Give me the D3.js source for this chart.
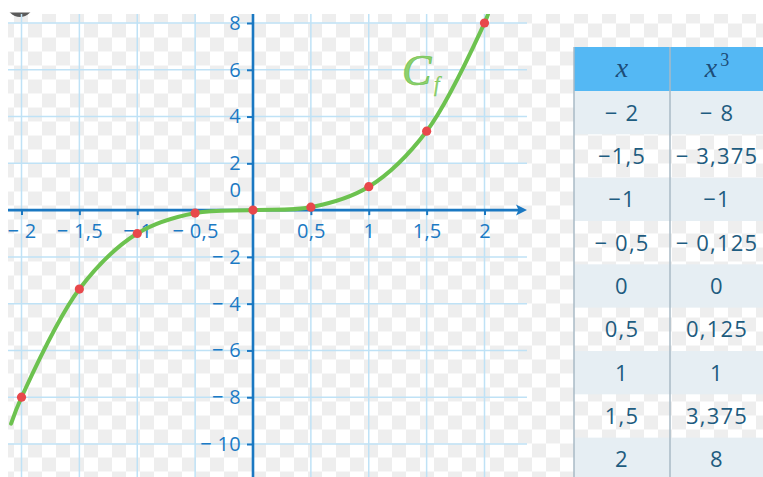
<!DOCTYPE html>
<html>
<head>
<meta charset="utf-8">
<script src="https://cdn.jsdelivr.net/npm/d3@7/dist/d3.min.js"></script>
<style>
  html, body { margin: 0; padding: 0; background: #fff; }
  svg { display: block; }
</style>
</head>
<body>
<svg id="chart" width="763" height="477"></svg>
<script>
// ---- data ----
const xValues = [-2, -1.5, -1, -0.5, 0, 0.5, 1, 1.5, 2];
const yValues = [-8, -3.375, -1, -0.125, 0, 0.125, 1, 3.375, 8];
// curve ends (beyond the tabulated points)
const curveStart = [-2.09, -9.13];
const curveEnd = [2.03, 8.37];
const xTicks = [-2, -1.5, -1, -0.5, 0.5, 1, 1.5, 2];
const yTicks = [8, 6, 4, 2, -2, -4, -6, -8, -10];
const xGrid = [-2, -1.5, -1, -0.5, 0.5, 1, 1.5, 2];
const yGrid = [8, 6, 4, 2, -2, -4, -6, -8, -10];
const tableXLabels = ["− 2", "−1,5", "−1", "− 0,5", "0", "0,5", "1", "1,5", "2"];
const tableYLabels = ["− 8", "− 3,375", "−1", "− 0,125", "0", "0,125", "1", "3,375", "8"];
const headerX = "x";
const headerY = "x";
const headerYSup = "3";
const curveName = "C";
const curveSub = "f";

// ---- setup ----
const svg = d3.select("#chart");
const W = 763, H = 477;
const x = d3.scaleLinear().domain([-2, 2]).range([21.5, 484.5]);
const y = d3.scaleLinear().domain([-10, 8]).range([444, 23]);

const axisColor = "#1a78c2";
const labelColor = "#1c7ac4";
const gridColor = "#bfe2f6";

// checkerboard background
const defs = svg.append("defs");
const pat = defs.append("pattern")
  .attr("id", "checker").attr("patternUnits", "userSpaceOnUse")
  .attr("x", 0).attr("y", 9.5).attr("width", 28).attr("height", 28);
pat.append("rect").attr("width", 28).attr("height", 28).attr("fill", "#ffffff");
pat.append("rect").attr("x", 14).attr("y", 0).attr("width", 14).attr("height", 14).attr("fill", "#eeeeee");
pat.append("rect").attr("x", 0).attr("y", 14).attr("width", 14).attr("height", 14).attr("fill", "#eeeeee");

defs.append("clipPath").attr("id", "plotclip")
  .append("rect").attr("x", 8).attr("y", 14).attr("width", 530).attr("height", H - 14);
defs.append("clipPath").attr("id", "topclip")
  .append("rect").attr("x", 0).attr("y", 12.5).attr("width", 60).attr("height", 10);

svg.append("rect").attr("width", W).attr("height", H).attr("fill", "#fff");
svg.append("rect").attr("x", 8).attr("y", 14).attr("width", W - 8).attr("height", H - 14)
  .attr("fill", "url(#checker)");

// small dark ring fragment at top-left
svg.append("circle").attr("cx", 20).attr("cy", 3.5).attr("r", 13.5)
  .attr("fill", "#5a5a5a").attr("clip-path", "url(#topclip)");

// grid
const grid = svg.append("g");
grid.selectAll("line.v").data(xGrid).join("line")
  .attr("x1", d => x(d)).attr("x2", d => x(d))
  .attr("y1", 14).attr("y2", H)
  .attr("stroke", gridColor).attr("stroke-width", 1.5);
grid.selectAll("line.h").data(yGrid).join("line")
  .attr("x1", 8).attr("x2", 527)
  .attr("y1", d => y(d)).attr("y2", d => y(d))
  .attr("stroke", gridColor).attr("stroke-width", 1.5);

// axes lines
svg.append("line").attr("x1", x(0)).attr("x2", x(0)).attr("y1", 14).attr("y2", H)
  .attr("stroke", axisColor).attr("stroke-width", 2.6);
svg.append("line").attr("x1", 8).attr("x2", 520).attr("y1", y(0)).attr("y2", y(0))
  .attr("stroke", axisColor).attr("stroke-width", 2.6);
svg.append("path")
  .attr("d", `M527,${y(0)} L516,${y(0) - 5.5} L518.5,${y(0)} L516,${y(0) + 5.5} Z`)
  .attr("fill", axisColor);

const fmt = v => {
  const s = d3.format("~g")(Math.abs(v)).replace(".", ",");
  return v < 0 ? "− " + s : s;
};

const axisFont = "'Open Sans', sans-serif";
const axisSize = 20;

// y axis ticks + labels
const yAxis = d3.axisLeft(y).tickValues(yTicks).tickFormat(fmt).tickSize(6).tickPadding(6);
const gy = svg.append("g").attr("transform", `translate(${x(0)},0)`).call(yAxis);
gy.select(".domain").remove();
gy.selectAll(".tick line").attr("stroke", axisColor).attr("stroke-width", 2);
gy.selectAll(".tick text").attr("fill", labelColor)
  .attr("font-family", axisFont).attr("font-size", axisSize).attr("letter-spacing", 0.3);

// x axis ticks + labels
const xAxis = d3.axisBottom(x).tickValues(xTicks).tickFormat(fmt).tickSize(5).tickPadding(9);
const gx = svg.append("g").attr("transform", `translate(0,${y(0)})`).call(xAxis);
gx.select(".domain").remove();
gx.selectAll(".tick line").attr("stroke", axisColor).attr("stroke-width", 2);
gx.selectAll(".tick text").attr("fill", labelColor)
  .attr("font-family", axisFont).attr("font-size", axisSize).attr("letter-spacing", 0.3);

// "0" label at origin
svg.append("text").attr("x", x(0) - 12).attr("y", y(0) - 20).attr("dy", "0.35em")
  .attr("text-anchor", "end").attr("fill", labelColor)
  .attr("font-family", axisFont).attr("font-size", axisSize).text("0");

// curve
const pts = [curveStart].concat(xValues.map((v, i) => [v, yValues[i]])).concat([curveEnd]);
const line = d3.line().x(d => x(d[0])).y(d => y(d[1])).curve(d3.curveCatmullRom.alpha(0.5));
svg.append("path").datum(pts).attr("d", line)
  .attr("fill", "none").attr("stroke", "#6cc24f").attr("stroke-width", 4)
  .attr("stroke-linecap", "round").attr("clip-path", "url(#plotclip)");

// points
svg.selectAll("circle.pt").data(xValues).join("circle")
  .attr("class", "pt")
  .attr("cx", d => x(d)).attr("cy", (d, i) => y(yValues[i])).attr("r", 4.6)
  .attr("fill", "#e8484b");

// curve name
svg.append("text").attr("x", 402).attr("y", 85)
  .attr("fill", "#8ed06d").attr("stroke", "#6cc24f").attr("stroke-width", 0.7)
  .attr("font-family", "'Liberation Serif', serif").attr("font-style", "italic")
  .attr("font-size", 44).text(curveName);
svg.append("text").attr("x", 434).attr("y", 91)
  .attr("fill", "#8ed06d").attr("stroke", "#6cc24f").attr("stroke-width", 0.3)
  .attr("font-family", "'Liberation Serif', serif").attr("font-style", "italic")
  .attr("font-size", 20).text(curveSub);

// ---- table ----
const tLeft = 574, tDiv = 670, tRight = 770;
const headTop = 47, headBottom = 91;
const rows = d3.scaleBand().domain(d3.range(xValues.length)).range([headBottom, headBottom + 43.33 * 9]).padding(0);
const tg = svg.append("g");
tg.append("rect").attr("x", tLeft).attr("y", headTop).attr("width", tRight - tLeft).attr("height", headBottom - headTop)
  .attr("fill", "#54b8f4");
tg.selectAll("rect.row").data(d3.range(xValues.length).filter(i => i % 2 === 0)).join("rect")
  .attr("x", tLeft).attr("y", i => rows(i)).attr("width", tRight - tLeft).attr("height", rows.bandwidth())
  .attr("fill", "#e6eef3");
tg.append("line").attr("x1", tLeft).attr("x2", tLeft).attr("y1", headTop).attr("y2", H)
  .attr("stroke", "#a8bac6").attr("stroke-width", 1.5);
tg.append("line").attr("x1", tDiv).attr("x2", tDiv).attr("y1", headTop).attr("y2", H)
  .attr("stroke", "#a8bac6").attr("stroke-width", 1.5);

tg.append("text").attr("x", 622).attr("y", 69).attr("dy", "0.3em")
  .attr("text-anchor", "middle").attr("fill", "#1d4d78")
  .attr("font-family", "'Liberation Serif', serif").attr("font-style", "italic").attr("font-size", 28)
  .text(headerX);
const hy = tg.append("text").attr("x", 717).attr("y", 69).attr("dy", "0.3em")
  .attr("text-anchor", "middle").attr("fill", "#1d4d78")
  .attr("font-family", "'Liberation Serif', serif").attr("font-size", 28);
hy.append("tspan").attr("font-style", "italic").text(headerY);
hy.append("tspan").attr("font-size", 18).attr("dy", -11).attr("dx", 3).text(headerYSup);

const cellFont = "'Open Sans', sans-serif";
tg.selectAll("text.cx").data(tableXLabels).join("text")
  .attr("x", 622).attr("y", (d, i) => rows(i) + rows.bandwidth() / 2).attr("dy", "0.36em")
  .attr("text-anchor", "middle").attr("fill", "#1e5c80")
  .attr("font-family", cellFont).attr("font-size", 22).attr("letter-spacing", 1.2).text(d => d);
tg.selectAll("text.cy").data(tableYLabels).join("text")
  .attr("x", 717).attr("y", (d, i) => rows(i) + rows.bandwidth() / 2).attr("dy", "0.36em")
  .attr("text-anchor", "middle").attr("fill", "#1e5c80")
  .attr("font-family", cellFont).attr("font-size", 22).attr("letter-spacing", 1.2).text(d => d);
</script>
</body>
</html>
